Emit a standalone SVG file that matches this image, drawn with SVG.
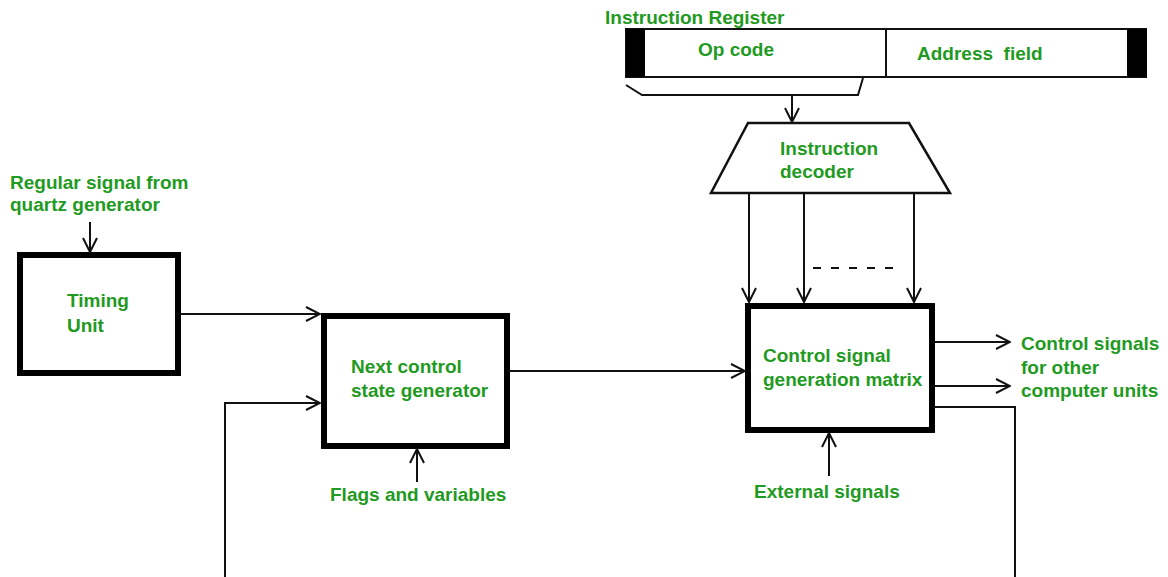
<svg xmlns="http://www.w3.org/2000/svg" width="1168" height="577" viewBox="0 0 1168 577">
<style>
text{font-family:"Liberation Sans",Arial,sans-serif;font-size:19px;font-weight:bold;fill:#1f9a22}
.ln{stroke:#111;stroke-width:2;fill:none}
.box{stroke:#000;stroke-width:6;fill:#fff}
</style>
<defs>
<marker id="ah" viewBox="0 0 16 16" refX="15" refY="8" markerWidth="16" markerHeight="16" markerUnits="userSpaceOnUse" orient="auto">
<path d="M1,1 L15,8 L1,15" fill="none" stroke="#111" stroke-width="2"/>
</marker>
</defs>
<rect width="1168" height="577" fill="#fff"/>
<g id="ir">
<rect x="626" y="29" width="520" height="48" fill="#fff" stroke="#111" stroke-width="2"/>
<rect x="626" y="29" width="19" height="48" fill="#000"/>
<rect x="1127" y="29" width="20" height="48" fill="#000"/>
<line x1="886" y1="29" x2="886" y2="77" class="ln"/>
<text x="605" y="24">Instruction Register</text>
<text x="698" y="56">Op code</text>
<text x="917" y="60">Address&#160; field</text>
</g>
<g id="decoder">
<polygon points="748,123 909,123 950,193 711,193" fill="#fff" stroke="#111" stroke-width="2.5"/>
<text x="780" y="155">Instruction</text>
<text x="780" y="178">decoder</text>
</g>
<g id="timing">
<rect x="20" y="255" width="158" height="118" class="box"/>
<text x="67" y="307">Timing</text>
<text x="67" y="332">Unit</text>
</g>
<g id="next">
<rect x="324" y="316" width="183" height="130" class="box"/>
<text x="351" y="373">Next control</text>
<text x="351" y="397">state generator</text>
</g>
<g id="matrix">
<rect x="748" y="306" width="184" height="124" class="box"/>
<text x="763" y="362">Control signal</text>
<text x="763" y="386">generation matrix</text>
</g>
<g id="labels">
<text x="10" y="189">Regular signal from</text>
<text x="10" y="211">quartz generator</text>
<text x="330" y="501">Flags and variables</text>
<text x="754" y="498">External signals</text>
<text x="1021" y="350">Control signals</text>
<text x="1021" y="374">for other</text>
<text x="1021" y="397">computer units</text>
</g>
<g id="connectors">
<polyline points="626,85 642,95 858,95 863,78" class="ln"/>
<line x1="792" y1="95" x2="792" y2="122" class="ln" marker-end="url(#ah)"/>
<line x1="749" y1="193" x2="749" y2="302" class="ln" marker-end="url(#ah)"/>
<line x1="804" y1="193" x2="804" y2="302" class="ln" marker-end="url(#ah)"/>
<line x1="914" y1="193" x2="914" y2="302" class="ln" marker-end="url(#ah)"/>
<line x1="813" y1="268" x2="902" y2="268" class="ln" stroke-dasharray="8,10"/>
<line x1="90" y1="222" x2="90" y2="252" class="ln" marker-end="url(#ah)"/>
<line x1="180" y1="314" x2="320" y2="314" class="ln" marker-end="url(#ah)"/>
<line x1="508" y1="371" x2="745" y2="371" class="ln" marker-end="url(#ah)"/>
<line x1="417" y1="482" x2="417" y2="449" class="ln" marker-end="url(#ah)"/>
<line x1="829" y1="476" x2="829" y2="433" class="ln" marker-end="url(#ah)"/>
<line x1="934" y1="342" x2="1010" y2="342" class="ln" marker-end="url(#ah)"/>
<line x1="934" y1="386" x2="1010" y2="386" class="ln" marker-end="url(#ah)"/>
<polyline points="934,407 1015,407 1015,577" class="ln"/>
<polyline points="225,577 225,403 320,403" class="ln" marker-end="url(#ah)"/>
</g>
</svg>
